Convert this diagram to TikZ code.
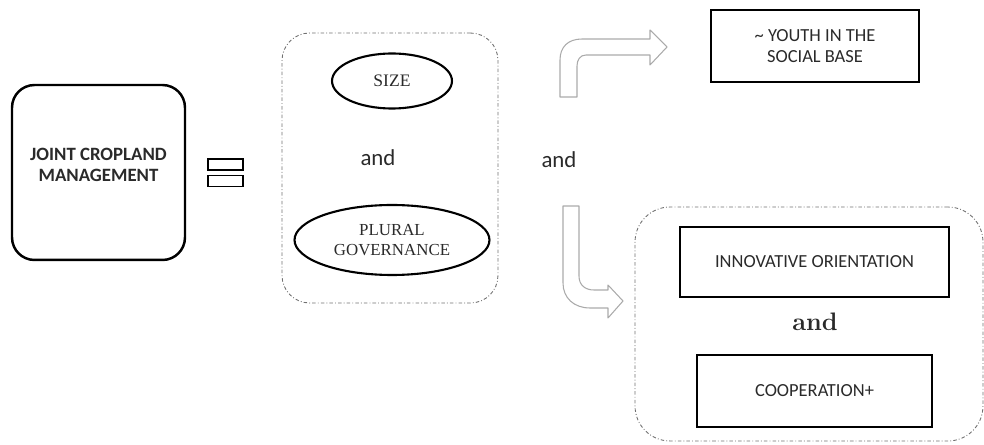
\documentclass[tikz,border=0pt]{standalone}
\usepackage{fontspec}
\usetikzlibrary{shapes.geometric}
\newfontfamily\calfont{Carlito}
\newfontfamily\serfont{Liberation Serif}
\definecolor{txtgray}{HTML}{2A2A2A}
\definecolor{arrgray}{HTML}{AAAAAA}
\definecolor{grpgray}{HTML}{707070}
\begin{document}
\begin{tikzpicture}[x=0.02cm,y=-0.02cm,
    bigbox/.style={draw,line width=1.4pt,rounded corners=0.45cm,
        minimum width=3.46cm,minimum height=3.5cm},
    eqbar/.style={draw,line width=1.1pt,minimum width=0.7cm,minimum height=0.22cm,inner sep=0pt},
    group/.style={draw=grpgray,line width=0.5pt,rounded corners=0.55cm,
        dash pattern=on 2pt off 1.2pt on 0.5pt off 1.2pt,inner sep=0pt},
    oval/.style={draw,ellipse,line width=1.2pt,inner sep=0pt,align=center,
        font=\serfont,text=txtgray},
    factor/.style={draw,line width=1.2pt,inner sep=0pt,align=center,
        font=\calfont\fontsize{10.5}{12}\selectfont,text=txtgray},
    andword/.style={font=\calfont\fontsize{13}{15}\selectfont,text=txtgray},
    blockarrow/.style={draw=arrgray,line width=0.6pt,line join=round}]

\useasboundingbox (0,0) rectangle (984,445);

% left term
\node[bigbox] (jcm) at (98.5,172.5) {};
\node[align=center,font=\calfont\bfseries\fontsize{10.7}{12}\selectfont,text=txtgray]
    (jcmlabel) at (98.5,165) {JOINT CROPLAND\\MANAGEMENT};

% equivalence sign
\foreach \y/\n in {164.5/top, 181/bot} {
    \node[eqbar] (eq\n) at (225.5,\y) {};
}

% first group
\node[group,minimum width=4.32cm,minimum height=5.4cm] (grpleft) at (390,168) {};
\node[oval,minimum width=2.4cm,minimum height=1.1cm] (size) at (392,81) {SIZE};
\node[andword] (andleft) at (378,158) {and};
\node[oval,font=\serfont\fontsize{9.6}{11.5}\selectfont,minimum width=3.9cm,
    minimum height=1.4cm] (plural) at (392,240) {PLURAL\\GOVERNANCE};

\node[andword] (andmid) at (559,160) {and};

% bent arrows
\draw[blockarrow] (560,97) -- (560,60) .. controls (560,47) and (568,39) .. (582,39)
    -- (650,39) -- (650,30) -- (667,47) -- (650,65) -- (650,55) -- (586,55)
    .. controls (580,55) and (577,60) .. (577,66) -- (577,97) -- cycle;
\draw[blockarrow] (563,206) -- (563,283) .. controls (563,298) and (574,308) .. (590,308)
    -- (608,308) -- (608,318) -- (623,301) -- (608,285) -- (608,290) -- (594,290)
    .. controls (585,290) and (579,285) .. (579,276) -- (579,206) -- cycle;

% upper branch
\node[factor,line width=1.5pt,minimum width=4.16cm,minimum height=1.44cm] (youth)
    at (815,46) {\textasciitilde\ YOUTH IN THE\\SOCIAL BASE};

% lower branch
\node[group,rounded corners=0.7cm,minimum width=6.96cm,minimum height=4.68cm] (grpright)
    at (809,324) {};
\node[factor,minimum width=5.38cm,minimum height=1.4cm] (innov) at (814.5,262)
    {INNOVATIVE ORIENTATION};
\node[font=\Large\bfseries,text=txtgray] (andright) at (815,322) {and};
\node[factor,minimum width=4.7cm,minimum height=1.44cm] (coop) at (814.5,391)
    {COOPERATION+};

\end{tikzpicture}
\end{document}
